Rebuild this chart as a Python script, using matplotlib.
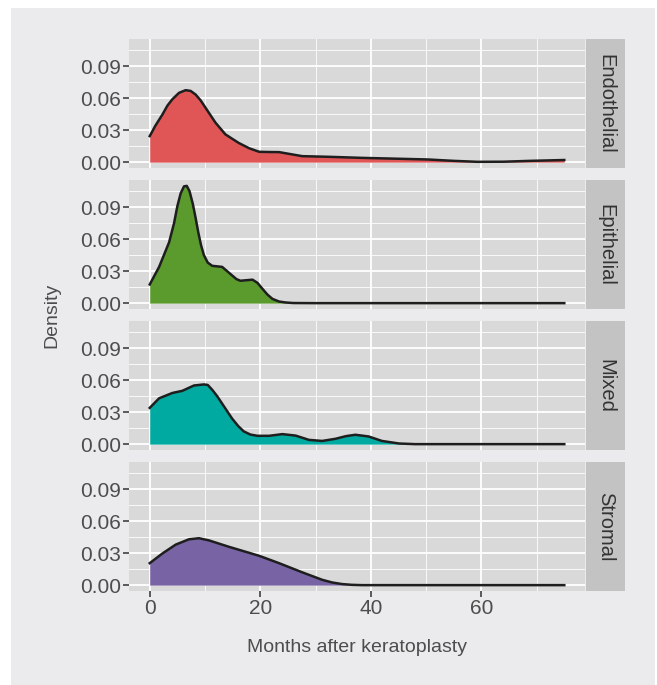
import matplotlib
matplotlib.use("Agg")
import matplotlib.pyplot as plt
from matplotlib.patches import Rectangle

plt.rcParams['font.family'] = ['Liberation Sans', 'DejaVu Sans']

# facet labels and fill colours
groups = ['Endothelial', 'Epithelial', 'Mixed', 'Stromal']
fills = ['#E05657', '#5B9B2D', '#00AAA0', '#7864A5']

# density curves (months, density)
endo_x = [0, 1, 2.3, 3.2, 4.1, 5.3, 6.5, 7.4, 8.3, 9.2, 10.1, 11.0, 11.9, 13.7, 16.1, 18, 19.8,
          21.5, 23.4, 25.5, 27.6, 32.4, 38.4, 44, 50.3, 55, 59.3, 64, 68.8, 72, 75]
endo_y = [0.0244, 0.034, 0.0447, 0.053, 0.059, 0.065, 0.0675, 0.0668, 0.0634, 0.058, 0.051,
          0.044, 0.037, 0.026, 0.018, 0.013, 0.0097, 0.0095, 0.0094, 0.0075, 0.0056, 0.005,
          0.004, 0.0033, 0.0025, 0.0012, 0.0003, 0.0004, 0.0012, 0.0016, 0.002]

epi_x = [0, 1.7, 3.5, 4.4, 5.0, 5.6, 6.2, 6.7, 7.2, 7.8, 8.3, 8.8, 9.3, 9.8, 10.5, 11.3, 12.2,
         13.1, 14.0, 14.9, 15.7, 16.4, 17.5, 18.6, 19.5, 20.4, 21.3, 22.2, 23.4, 24.6, 26, 30, 75]
epi_y = [0.0175, 0.034, 0.057, 0.075, 0.091, 0.103, 0.1095, 0.110, 0.105, 0.093, 0.080, 0.066,
         0.054, 0.045, 0.038, 0.035, 0.0345, 0.034, 0.030, 0.026, 0.0225, 0.021, 0.0215, 0.022,
         0.019, 0.0134, 0.008, 0.004, 0.0015, 0.0006, 0.0001, 0, 0]

mix_x = [0, 1.7, 4.1, 5.9, 8.0, 9.8, 10.5, 11.3, 12.2, 13.1, 14.0, 14.9, 16.0, 17.0, 18.2,
         19.5, 21.6, 24.0, 26.4, 28.8, 31.2, 33.6, 35.5, 37.2, 39.6, 42.0, 45.1, 48, 75]
mix_y = [0.034, 0.043, 0.048, 0.050, 0.055, 0.056, 0.0555, 0.051, 0.045, 0.038, 0.031, 0.024,
         0.017, 0.012, 0.009, 0.0078, 0.0078, 0.0094, 0.008, 0.004, 0.003, 0.005, 0.0075,
         0.0088, 0.0072, 0.003, 0.0006, 0.0, 0.0]

str_x = [0, 2.3, 4.7, 7.1, 8.9, 10.7, 14.3, 19.8, 23.4, 27.6, 31.2, 33, 34.8, 36.5, 38.4, 75]
str_y = [0.0206, 0.0297, 0.038, 0.043, 0.044, 0.042, 0.036, 0.0275, 0.0206, 0.012, 0.005,
         0.0025, 0.001, 0.0003, 0, 0]

curves = [(endo_x, endo_y), (epi_x, epi_y), (mix_x, mix_y), (str_x, str_y)]

y_ticks = [0.00, 0.03, 0.06, 0.09]
x_ticks = [0, 20, 40, 60]

W, H = 657, 685
fig = plt.figure(figsize=(W / 100, H / 100), dpi=100)
fig.patch.set_facecolor('white')
# light grey plot background
fig.patches.append(Rectangle((11 / W, 0), (655 - 11) / W, 1 - 8 / H,
                             transform=fig.transFigure, facecolor='#EBEBED',
                             edgecolor='none', zorder=-10))

left, right = 129, 585
strip_w = 39
panel_tops = [39, 180, 321, 462]
panel_h = 129

text_col = '#4D4D4D'
for i, (name, col, (xs, ys)) in enumerate(zip(groups, fills, curves)):
    top = panel_tops[i]
    ax = fig.add_axes([left / W, 1 - (top + panel_h) / H, (right - left) / W, panel_h / H])
    ax.set_facecolor('#D9D9D9')
    ax.fill_between(xs, 0, ys, color=col, linewidth=0, zorder=2)
    ax.plot(xs, ys, color='#1E1E1E', lw=1.8, zorder=3, solid_joinstyle='round')
    ax.set_xlim(-3.75, 78.75)
    ax.set_ylim(-0.0055, 0.1155)
    ax.set_yticks(y_ticks)
    ax.set_yticklabels([f'{v:.2f}' for v in y_ticks])
    ax.set_xticks(x_ticks)
    ax.set_xticks([10, 30, 50, 70], minor=True)
    ax.set_yticks([0.015, 0.045, 0.075, 0.105], minor=True)
    ax.grid(True, which='major', color='white', lw=1.3, zorder=0)
    ax.grid(True, which='minor', color='white', lw=0.6, zorder=0)
    ax.set_axisbelow(True)
    for s in ax.spines.values():
        s.set_visible(False)
    ax.tick_params(axis='both', which='major', length=4, width=1.1, color='#333333',
                   labelcolor=text_col, labelsize=15, pad=2)
    ax.tick_params(which='minor', length=0)
    if i < 3:
        ax.tick_params(axis='x', which='major', length=0, labelbottom=False)

    # strip on the right
    sax = fig.add_axes([(right + 1) / W, 1 - (top + panel_h) / H, strip_w / W, panel_h / H])
    sax.set_facecolor('#C3C3C3')
    sax.set_xticks([])
    sax.set_yticks([])
    for s in sax.spines.values():
        s.set_visible(False)
    sax.text(0.5, 0.5, name, rotation=-90, ha='center', va='center',
             fontsize=14.5, color='#333333', transform=sax.transAxes)

fig.text(52 / W, 1 - 315 / H, 'Density', rotation=90, ha='center', va='center',
         fontsize=14, color=text_col)
fig.text(357 / W, 1 - 648 / H, 'Months after keratoplasty', ha='center', va='center',
         fontsize=14, color=text_col)

fig.savefig('out.png', dpi=100)
